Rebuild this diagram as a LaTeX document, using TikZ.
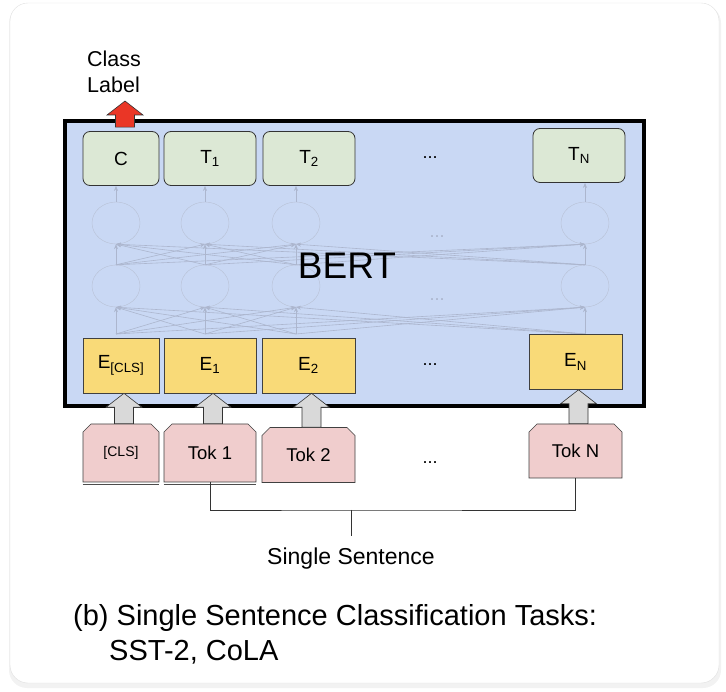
\documentclass[tikz,border=0pt]{standalone}
\usepackage{fontspec}
\setmainfont{Liberation Sans}
\usetikzlibrary{shapes.misc,shapes.geometric,arrows.meta,calc}

\definecolor{bertblue}{RGB}{201,216,244}
\definecolor{outgreen}{RGB}{220,232,213}
\definecolor{embyellow}{RGB}{249,218,120}
\definecolor{tokpink}{RGB}{240,205,205}
\definecolor{arrgray}{RGB}{217,217,217}
\definecolor{clsred}{RGB}{234,54,38}
\definecolor{netgray}{RGB}{172,182,206}

\newcommand{\sz}[2]{\fontsize{#1}{#2}\selectfont}
% fat up arrow from #1 to #2
\newcommand{\blockarrow}[3]{%
  \filldraw[fill=#3, draw=black!80, line width=0.6pt] let \p1=(#1), \p2=(#2) in
    (\x1-9.5pt,\y1) -- (\x1-9.5pt,\y2-14pt) -- (\x1-18pt,\y2-14pt) -- (\x1,\y2)
    -- (\x1+18pt,\y2-14pt) -- (\x1+9.5pt,\y2-14pt) -- (\x1+9.5pt,\y1) -- cycle;}

\tikzset{
  outbox/.style={draw=black!80, fill=outgreen, rounded corners=7pt, line width=0.8pt,
    minimum height=54pt, inner sep=0pt, font=\sz{19}{22}},
  embbox/.style={draw=black!75, fill=embyellow, line width=0.6pt,
    minimum height=55pt, inner sep=0pt, font=\sz{19}{22}},
  tokbox/.style={chamfered rectangle, chamfered rectangle corners={north west,north east},
    chamfered rectangle xsep=4pt, chamfered rectangle ysep=4pt,
    draw=black!75, fill=tokpink, line width=0.6pt, inner sep=0pt, font=\sz{18.5}{21}},
  neuron/.style={ellipse, draw=netgray!85, minimum width=48pt, minimum height=42pt, inner sep=0pt},
  netline/.style={draw=netgray, line width=0.6pt, -{Stealth[length=5pt,width=4pt]}},
  dots/.style={font=\sz{18}{20}, inner sep=0pt},
}

\begin{document}
\begin{tikzpicture}[x=1pt,y=-1pt]
\useasboundingbox (0,0) rectangle (726,692);

\filldraw[fill=black!5, draw=none, rounded corners=18pt] (9,5) rectangle (721,688);
\filldraw[fill=white, draw=black!12, rounded corners=18pt] (10,3) rectangle (719,683);

\draw[line width=4pt, fill=bertblue] (65,121) rectangle (644,406);

\foreach \i/\x in {1/116,2/205,3/296,4/585}{
  \node[neuron] (l\i) at (\x,286) {};
  \node[neuron] (u\i) at (\x,223) {};
  \coordinate (s\i) at (\x,334);
}
\foreach \i in {1,...,4} \foreach \j in {1,...,4}{
  \draw[netline] (s\i) -- (l\j.south);
  \draw[netline] (l\i.north) -- (u\j.south);
}
\node[dots, text=netgray] (ndots1) at (437,237) {...};
\node[dots, text=netgray] (ndots2) at (437,300) {...};
\node[font=\sz{37}{40}] (bert) at (347,266) {BERT};

\node[outbox, minimum width=76pt] (tc) at (121,158.5) {C};
\node[outbox, minimum width=92pt] (t1) at (210,158.5) {T\textsubscript{1}};
\node[outbox, minimum width=92pt] (t2) at (309,158.5) {T\textsubscript{2}};
\node[outbox, minimum width=92pt] (tn) at (579,155.5) {T\textsubscript{N}};
\node[dots] (tdots) at (430,158) {...};

\draw[netline] (u1.north) -- (u1.north |- tc.south);
\draw[netline] (u2.north) -- (u2.north |- t1.south);
\draw[netline] (u3.north) -- (u3.north |- t2.south);
\draw[netline] (u4.north) -- (u4.north |- tn.south);

\node[embbox, minimum width=76pt] (e0) at (121,365.5) {E\textsubscript{[CLS]}};
\node[embbox, minimum width=92pt] (e1) at (210,365.5) {E\textsubscript{1}};
\node[embbox, minimum width=93pt] (e2) at (308.5,365.5) {E\textsubscript{2}};
\node[embbox, minimum width=93pt] (en) at (575.5,362) {E\textsubscript{N}};
\node[dots] (edots) at (430,365) {...};

\node[tokbox, minimum width=76pt, minimum height=58pt, font=\sz{14}{16}] (k0) at (121,453) {[CLS]};
\node[tokbox, minimum width=92pt, minimum height=58pt] (k1) at (210,453) {Tok 1};
\node[tokbox, minimum width=93pt, minimum height=55pt] (k2) at (308.5,455) {Tok 2};
\node[tokbox, minimum width=93pt, minimum height=54pt] (kn) at (575.5,451) {Tok N};
\node[dots] (kdots) at (430,463) {...};
\draw[black!70, line width=0.6pt] ([yshift=-2.5pt]k0.south west) -- ([yshift=-2.5pt]k0.south east);
\draw[black!70, line width=0.6pt] ([yshift=-2.5pt]k1.south west) -- ([yshift=-2.5pt]k1.south east);

\blockarrow{$(k0.north)+(3,0)$}{e0.south}{arrgray}
\blockarrow{$(k1.north)+(3,0)$}{e1.south}{arrgray}
\blockarrow{$(k2.north)+(3,0)$}{e2.south}{arrgray}
\blockarrow{$(kn.north)+(3,0)$}{en.south}{arrgray}

\node[align=left, anchor=north west, inner sep=0pt, font=\sz{21.5}{26}] (cls) at (87,51) {Class\\Label};
\coordinate (tip) at (125,101);
\blockarrow{$(tc.north)+(4,-4)$}{tip}{clsred}

\coordinate (jn) at (351,510);
\draw[black!80, line width=0.8pt] (k1.south) |- (jn) -| (kn.south);
\node[inner sep=0pt, font=\sz{23}{26}] (ss) at (351,559) {Single Sentence};
\draw[black!80, line width=0.8pt, shorten >=12pt] (jn) -- (ss.north);

\node[anchor=base west, inner sep=0pt, font=\sz{29}{34}] (cap1) at (73,625) {(b) Single Sentence Classification Tasks:};
\node[anchor=base west, inner sep=0pt, font=\sz{29}{34}] (cap2) at (109,660) {SST-2, CoLA};
\end{tikzpicture}
\end{document}
